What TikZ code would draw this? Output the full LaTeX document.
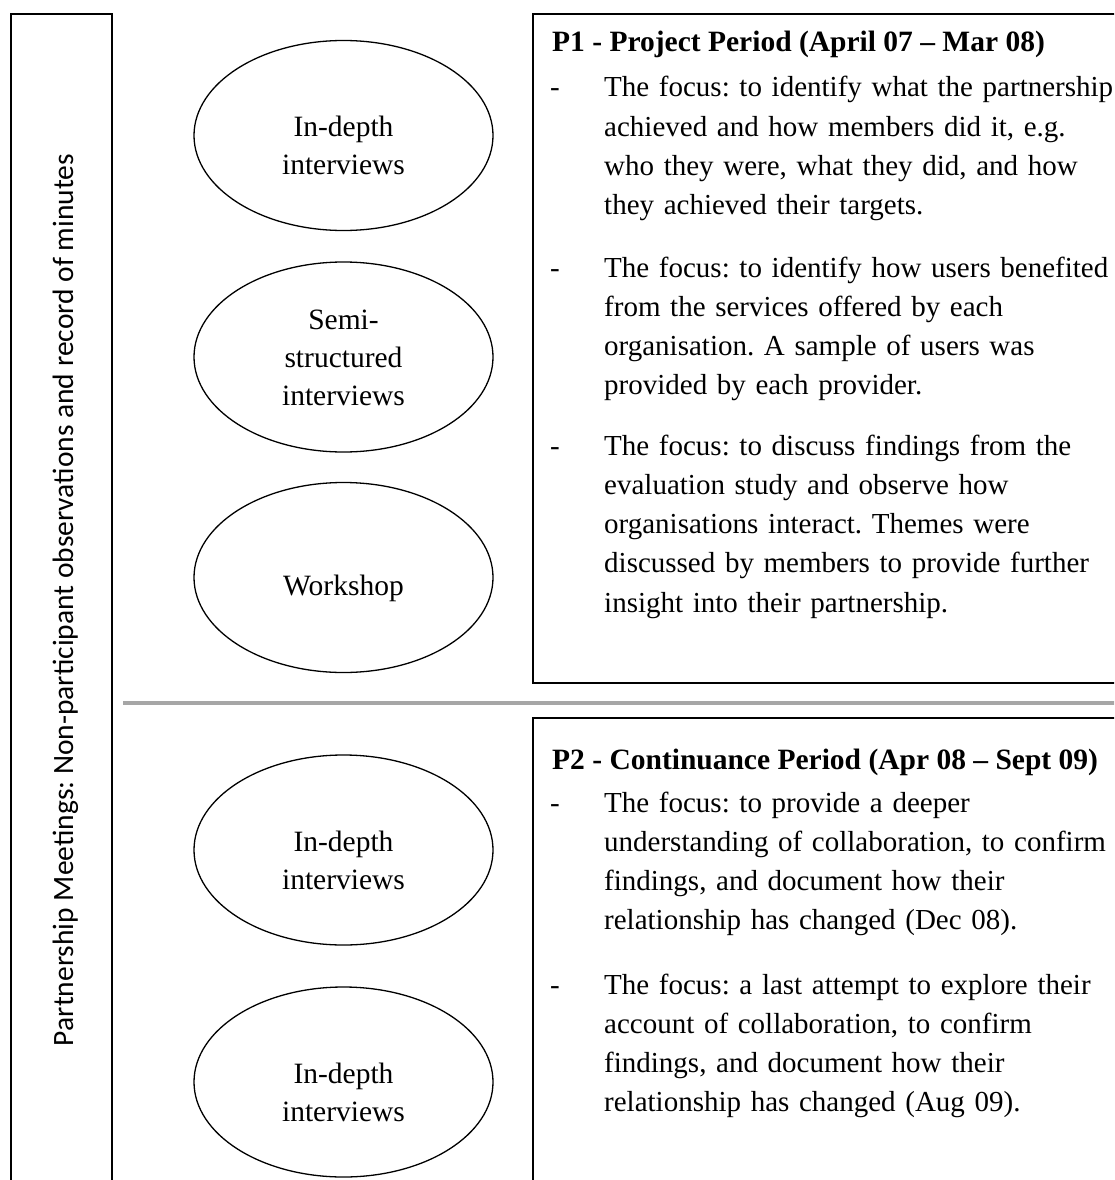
\documentclass[tikz,border=0pt]{standalone}
\usepackage{fontspec}
\setmainfont{Liberation Serif}
\newfontfamily\sidefont{Carlito}
\usetikzlibrary{shapes.geometric}
\frenchspacing
\tikzset{
  body/.style={font=\fontsize{29}{39.3}\selectfont\frenchspacing, inner sep=0pt},
  para/.style={body, anchor=base west, text width=620pt, align=left},
  dashmark/.style={body, anchor=base west},
  head/.style={inner sep=0pt, anchor=base west, font=\fontsize{29.5}{39.3}\selectfont\bfseries},
  oval/.style={ellipse, draw, line width=1.3pt, minimum width=299pt, minimum height=190pt, inner sep=0pt},
  ovaltext/.style={inner sep=0pt, font=\fontsize{29.5}{38}\selectfont, anchor=base, text width=260pt, align=center},
  frame/.style={draw, line width=1.3pt},
}
\begin{document}
\begin{tikzpicture}[x=1pt, y=-1pt]
\useasboundingbox (0,0) rectangle (1114,1180);
\clip (0,0) rectangle (1114,1180);
% left frame and rotated text
\draw[frame] (11,1200) -- (11,14) -- (112,14) -- (112,1200);
\node[inner sep=0pt, font=\fontsize{29.5}{35}\sidefont, rotate=90, anchor=base] (side) at (73,600)
  {Partnership Meetings: Non-participant observations and record of minutes};
% right frames
\draw[frame] (1130,14) -- (533,14) -- (533,683) -- (1130,683);
\draw[frame] (1130,718) -- (533,718) -- (533,1200);
% separator
\draw[line width=4pt, black!35] (123,703) -- (1120,703);
% ellipses
\node[oval] (e1) at (343.5,135.5) {};
\node[oval] (e2) at (343.5,357) {};
\node[oval] (e3) at (343.5,577.5) {};
\node[oval] (e4) at (343.5,850) {};
\node[oval] (e5) at (343.5,1082) {};
\node[ovaltext] (t1) at (343.5,136) {In-depth\\interviews};
\node[ovaltext] (t2) at (343.5,329) {Semi-\\structured\\interviews};
\node[ovaltext] (t3) at (343.5,595) {Workshop};
\node[ovaltext] (t4) at (343.5,851) {In-depth\\interviews};
\node[ovaltext] (t5) at (343.5,1083) {In-depth\\interviews};
% P1
\node[head] (h1) at (552,52) {P1 - Project Period (April 07 -- Mar 08)};
\node[dashmark] (d1) at (550,97) {-};
\node[para] (p1) at (604,97) {The focus: to identify what the partnership\\achieved and how members did it, e.g.\\who they were, what they did, and how\\they achieved their targets.};
\node[dashmark] (d2) at (550,277) {-};
\node[para] (p2) at (604,277) {The focus: to identify how users benefited\\from the services offered by each\\organisation. A sample of users was\\provided by each provider.};
\node[dashmark] (d3) at (550,455) {-};
\node[para] (p3) at (604,455) {The focus: to discuss findings from the\\evaluation study and observe how\\organisations interact. Themes were\\discussed by members to provide further\\insight into their partnership.};
% P2
\node[head] (h2) at (552,769) {P2 - Continuance Period (Apr 08 -- Sept 09)};
\node[dashmark] (d4) at (550,812) {-};
\node[para] (p4) at (604,812) {The focus: to provide a deeper\\understanding of collaboration, to confirm\\findings, and document how their\\relationship has changed (Dec 08).};
\node[dashmark] (d5) at (550,994) {-};
\node[para] (p5) at (604,994) {The focus: a last attempt to explore their\\account of collaboration, to confirm\\findings, and document how their\\relationship has changed (Aug 09).};
\end{tikzpicture}
\end{document}
